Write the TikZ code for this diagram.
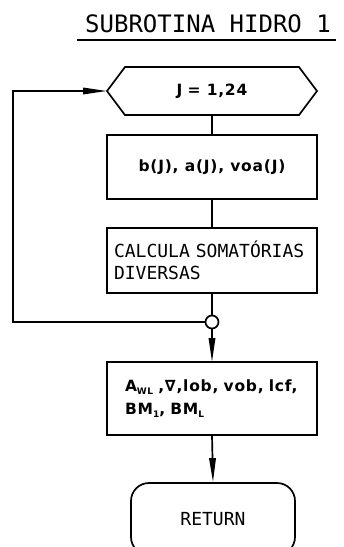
\documentclass[tikz,border=0pt]{standalone}
\usepackage{fontspec}
\setmainfont{DejaVu Sans}
\newfontfamily\plotfont{DejaVu Sans Mono}
\newfontfamily\rndfont[LetterSpace=5]{DejaVu Sans}
\usetikzlibrary{arrows.meta,calc}
\newcommand{\lowsub}[1]{{\fontsize{9}{9}\selectfont\raisebox{-2.5pt}{#1}}}
\begin{document}
\begin{tikzpicture}[x=1pt,y=-1pt,line width=1.7pt,
  arr/.tip={Triangle[length=24pt,width=6.5pt]},
  procbox/.style={draw,minimum width=210pt,inner sep=0pt,outer sep=0pt},
  rndtext/.style={font=\rndfont\bfseries\fontsize{15.5}{23}\selectfont},
  plottext/.style={font=\plotfont\fontsize{18}{22}\selectfont}]
\useasboundingbox (0,0) rectangle (344,547);
\clip (0,0) rectangle (344,547);
% title
\node[anchor=base,inner sep=0pt,font=\plotfont\fontsize{24}{24}\selectfont] (title) at (208,32) {SUBROTINA HIDRO 1};
\draw[line width=2.2pt] (77,40) -- (336,40);
% loop header (hexagon)
\node[rndtext,minimum width=174pt,minimum height=48pt,inner sep=0pt,outer sep=0pt] (loop) at (212,91) {J\,\,= 1,24};
\coordinate (hexl) at ($(loop.west)+(-18,0)$);
\coordinate (hexr) at ($(loop.east)+(18,0)$);
\draw (hexl) -- (loop.north west) -- (loop.north east) -- (hexr) -- (loop.south east) -- (loop.south west) -- cycle;
% boxes
\node[procbox,rndtext,minimum height=64pt] (b1) at (212,167) {b(J), a(J), voa(J)};
\node[procbox,plottext,minimum height=65pt,align=left,text width=196pt,inner xsep=7pt] (b2) at (212,260.5) {CALCULA SOMATÓRIAS\\DIVERSAS};
\node[circle,draw,fill=white,minimum size=13pt,inner sep=0pt] (jn) at (212,322) {};
\node[procbox,rndtext,minimum height=73pt,align=left,text width=184pt,inner xsep=13pt] (b3) at (212,398.5) {\hspace*{5pt}A\lowsub{WL} ,∇,lob, vob, lcf,\\\hspace*{5pt}BM\lowsub{1}, BM\lowsub{L}};
\node[draw,plottext,rounded corners=18pt,minimum width=164pt,minimum height=72pt,inner sep=0pt] (ret) at (213,519) {RETURN};
% connectors
\coordinate (lc1) at (13,322);
\coordinate (lc2) at (13,91);
\draw (loop.south) -- (b1.north);
\draw (b1.south) -- (b2.north);
\draw (b2.south) -- (jn.north);
\draw[-arr] (jn.west) -- (lc1) -- (lc2) -- (hexl);
\draw[-arr] (jn.south) -- (b3.north);
\draw[-arr] (b3.south) -- (ret.north);
\end{tikzpicture}
\end{document}
